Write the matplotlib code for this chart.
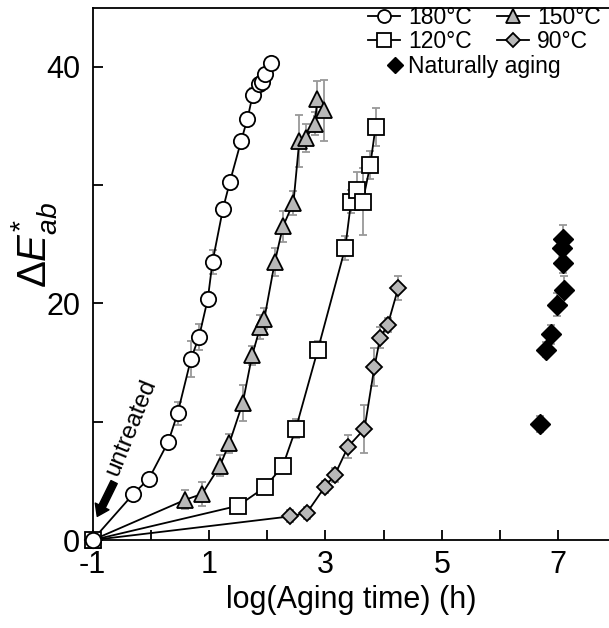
import matplotlib
matplotlib.use('Agg')
import matplotlib.pyplot as plt

plt.rcParams['font.family'] = ['Liberation Sans', 'DejaVu Sans']
plt.rcParams['mathtext.fontset'] = 'custom'
plt.rcParams['mathtext.rm'] = 'Liberation Sans'
plt.rcParams['mathtext.it'] = 'Liberation Sans:italic'

# log(aging time), delta E, error
x_180 = [-1, -0.30, -0.03, 0.30, 0.46, 0.69, 0.83, 0.98, 1.06, 1.24, 1.36, 1.55, 1.66, 1.75, 1.85, 1.91, 1.96, 2.06]
y_180 = [0, 3.9, 5.2, 8.3, 10.7, 15.3, 17.2, 20.4, 23.5, 28.0, 30.3, 33.7, 35.6, 37.6, 38.5, 38.7, 39.4, 40.3]
e_180 = [0, 0.3, 0.4, 0.5, 1.0, 1.5, 1.1, 0.6, 1.0, 0.5, 0.5, 0.4, 0.4, 0.6, 0.5, 0.4, 0.4, 0.4]

x_150 = [-1, 0.59, 0.88, 1.19, 1.35, 1.58, 1.74, 1.88, 1.95, 2.13, 2.27, 2.45, 2.55, 2.67, 2.82, 2.86, 2.98]
y_150 = [0, 3.4, 3.9, 6.3, 8.2, 11.6, 15.6, 18.0, 18.7, 23.5, 26.5, 28.5, 33.7, 34.0, 35.2, 37.3, 36.3]
e_150 = [0, 0.8, 1.0, 0.9, 0.8, 1.5, 0.8, 1.0, 0.9, 1.2, 1.3, 1.0, 2.2, 1.2, 1.0, 1.5, 2.6]

x_120 = [-1, 1.50, 1.97, 2.27, 2.49, 2.87, 3.34, 3.44, 3.55, 3.64, 3.77, 3.86]
y_120 = [0, 2.9, 4.5, 6.3, 9.4, 16.1, 24.7, 28.6, 29.6, 28.6, 31.7, 34.9]
e_120 = [0, 0.3, 0.5, 0.5, 0.8, 0.7, 1.0, 1.0, 1.5, 2.8, 1.2, 1.6]

x_90 = [-1, 2.39, 2.68, 2.99, 3.16, 3.39, 3.67, 3.84, 3.94, 4.07, 4.25]
y_90 = [0, 2.0, 2.3, 4.5, 5.5, 7.9, 9.4, 14.6, 17.1, 18.2, 21.3]
e_90 = [0, 0.5, 0.5, 0.5, 0.6, 1.0, 2.0, 1.6, 0.9, 0.6, 1.0]

x_nat = [6.68, 6.78, 6.87, 6.98, 7.10, 7.08, 7.06, 7.08]
y_nat = [9.8, 16.1, 17.4, 19.9, 21.1, 23.4, 24.7, 25.4]
e_nat = [0.7, 0.6, 0.8, 1.0, 1.2, 0.8, 0.8, 1.2]

x_ticks = [-1, 0, 1, 2, 3, 4, 5, 6, 7]
x_ticklabels = ['-1', '', '1', '', '3', '', '5', '', '7']
y_ticks = [0, 10, 20, 30, 40]
y_ticklabels = ['0', '', '20', '', '40']

series = [
    ('180°C', x_180, y_180, e_180, 'o', 'white', 11),
    ('150°C', x_150, y_150, e_150, '^', '#b8b8b8', 12),
    ('120°C', x_120, y_120, e_120, 's', 'white', 11.5),
    ('90°C', x_90, y_90, e_90, 'D', '#b8b8b8', 8.5),
]

fig = plt.figure(figsize=(6.09, 6.28), dpi=100)
ax = fig.add_axes([0.152, 0.14, 0.848, 0.848])

handles = {}
for label, xs, ys, es, m, fc, ms in series:
    ax.errorbar(xs, ys, yerr=es, fmt='none', ecolor='#999999', elinewidth=1.3,
                capsize=3, capthick=1.3, zorder=2, clip_on=False)
    h, = ax.plot(xs, ys, color='black', lw=1.3, marker=m, ms=ms, mfc=fc,
                 mec='black', mew=1.3, zorder=3, clip_on=False, label=label)
    handles[label] = h

ax.errorbar(x_nat, y_nat, yerr=e_nat, fmt='none', ecolor='#999999', elinewidth=1.3,
            capsize=3, capthick=1.3, zorder=2)
h_nat, = ax.plot(x_nat, y_nat, ls='none', marker='D', ms=10.5, mfc='black', mec='black',
                 zorder=3, label='Naturally aging')

# origin circle drawn over the origin square
ax.plot([-1], [0], ls='none', marker='o', ms=11, mfc='white', mec='black', mew=1.3,
        zorder=5, clip_on=False)

ax.set_xlim(-1, 7.87)
ax.set_ylim(0, 45)
ax.set_xticks(x_ticks)
ax.set_xticklabels(x_ticklabels)
ax.set_yticks(y_ticks)
ax.set_yticklabels(y_ticklabels)
ax.tick_params(direction='in', length=7, width=1.3, labelsize=22)
ax.tick_params(axis='x', pad=7)
ax.tick_params(axis='y', pad=9)
for s in ['left', 'bottom', 'top']:
    ax.spines[s].set_linewidth(1.3)
ax.spines['right'].set_visible(False)

ax.set_xlabel('log(Aging time) (h)', fontsize=22, labelpad=4)
ax.set_ylabel(r'$\mathit{\Delta E}^{*}_{ab}$', fontsize=29)
ax.yaxis.set_label_coords(-0.065, 0.555)

ax.annotate('', xy=(-0.92, 2.0), xytext=(-0.63, 4.9),
            arrowprops=dict(arrowstyle='simple,head_width=1.1,head_length=0.8,tail_width=0.5',
                            color='black', shrinkA=0, shrinkB=0))
ax.text(-0.34, 9.5, 'untreated', rotation=68, fontsize=17.5, ha='center', va='center')

order = ['180°C', '120°C', '150°C', '90°C']
leg1 = fig.legend([handles[k] for k in order], order, ncol=2, loc='upper left',
                  bbox_to_anchor=(368 / 609, 1 - 6 / 628), frameon=False, fontsize=16.5,
                  handlelength=1.4, handletextpad=0.35, columnspacing=1.1,
                  labelspacing=0.05, borderpad=0, borderaxespad=0, markerscale=0.85)
leg2 = fig.legend([h_nat], ['Naturally aging'], loc='upper left',
                  bbox_to_anchor=(388 / 609, 1 - 55 / 628), frameon=False, fontsize=16.5,
                  handlelength=0.6, handletextpad=0.27, borderpad=0, borderaxespad=0,
                  markerscale=0.8)

fig.savefig('out.png', dpi=100)
